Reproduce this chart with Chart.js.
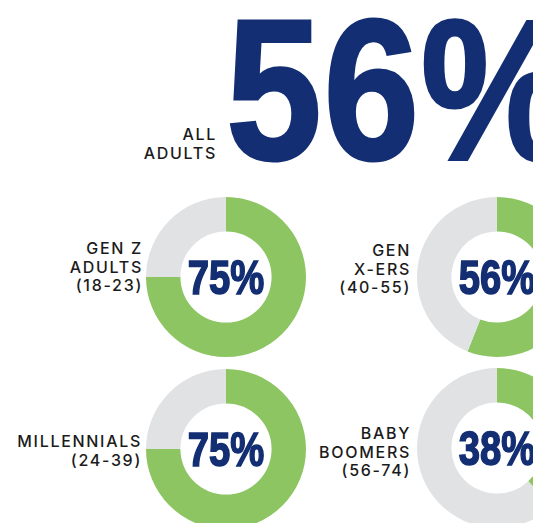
<!DOCTYPE html>
<html>
<head>
<meta charset="utf-8">
<script src="https://cdn.jsdelivr.net/npm/chart.js@4/dist/chart.umd.min.js"></script>
<style>
  html, body { margin: 0; padding: 0; background: #fff; }
  body { width: 533px; height: 523px; position: relative; overflow: hidden; }
  .big {
    position: absolute; left: 226px; top: -10px;
    font: bold 200px "Liberation Sans", Arial, sans-serif; line-height: 200px;
    color: #132e72; -webkit-text-stroke: 3px #132e72;
    transform: scaleX(0.86); transform-origin: 0 0; white-space: nowrap;
    letter-spacing: 2px;
  }
  .lbl {
    position: absolute; text-align: right; white-space: nowrap;
    font: 500 16px Inter, "Noto Sans", sans-serif; line-height: 18.5px;
    letter-spacing: 1.7px; color: #1b1b1b;
  }
  .ring { position: absolute; width: 160px; height: 160px; }
</style>
</head>
<body>
<div class="big" id="big"></div>
<div class="lbl" id="allLbl" style="right:316px; top:125px;"></div>
<script>
// survey shares, in percent
const allAdultsLabel = ['ALL', 'ADULTS']
const allAdultsShare = 56
const groupLabels = [
    ['GEN Z', 'ADULTS', '(18-23)'],
    ['GEN', 'X-ERS', '(40-55)'],
    ['MILLENNIALS', '(24-39)'],
    ['BABY', 'BOOMERS', '(56-74)'],
]
const groupShares = [75, 56, 75, 38]

const green = '#8cc562'
const grey = '#e1e2e4'
const navy = '#132e72'

// ring centres and label boxes on the page
const centres = [[226, 277], [497, 277], [226, 449], [497, 448]]
const labelBoxes = [[141, 239], [409, 241], [140, 432], [409, 424]]

document.getElementById('big').textContent = allAdultsShare + '%'
document.getElementById('allLbl').innerHTML = allAdultsLabel.join('<br>')

const centerText = {
    id: 'centerText',
    afterDraw(chart) {
        const arc = chart.getDatasetMeta(0).data[0]
        const value = chart.data.datasets[0].data[0]
        const ctx = chart.ctx
        ctx.save()
        ctx.translate(arc.x, arc.y + 17)
        ctx.scale(0.78, 1)
        ctx.font = 'bold 49px "Liberation Sans", Arial, sans-serif'
        ctx.textAlign = 'center'
        ctx.fillStyle = navy
        ctx.strokeStyle = navy
        ctx.lineWidth = 1.6
        ctx.fillText(value + '%', 0, 0)
        ctx.strokeText(value + '%', 0, 0)
        ctx.restore()
    }
}

function buildRing(i) {
    const [cx, cy] = centres[i]
    const box = document.createElement('div')
    box.className = 'ring'
    box.style.left = (cx - 80) + 'px'
    box.style.top = (cy - 80) + 'px'
    const canvas = document.createElement('canvas')
    canvas.width = 160
    canvas.height = 160
    box.appendChild(canvas)
    document.body.appendChild(box)

    const lbl = document.createElement('div')
    lbl.className = 'lbl'
    lbl.style.right = (533 - labelBoxes[i][0] - 2) + 'px'
    lbl.style.top = labelBoxes[i][1] + 'px'
    lbl.innerHTML = groupLabels[i].join('<br>')
    document.body.appendChild(lbl)

    const share = groupShares[i]
    new Chart(canvas, {
        type: 'doughnut',
        data: {
            labels: ['Yes', 'No'],
            datasets: [{
                data: [share, 100 - share],
                backgroundColor: [green, grey],
                borderWidth: 0,
                hoverOffset: 0,
                offset: 0,
            }]
        },
        options: {
            responsive: false,
            animation: false,
            cutout: '57%',
            layout: { padding: 0 },
            events: [],
            plugins: {
                legend: { display: false },
                tooltip: { enabled: false }
            }
        },
        plugins: [centerText]
    })
}

groupShares.forEach((_, i) => buildRing(i))
</script>
</body>
</html>
